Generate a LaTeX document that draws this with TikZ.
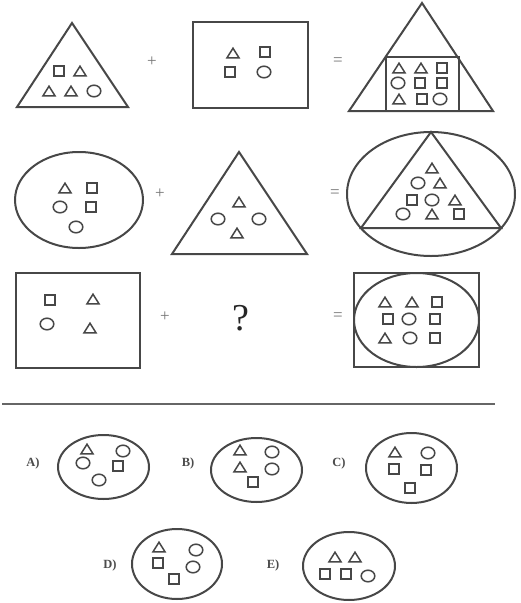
\documentclass[tikz,border=0pt]{standalone}
\usepackage{fontspec}
\setmainfont{Liberation Serif}
\begin{document}
\begin{tikzpicture}[x=1pt,y=-1pt,
  big/.style={draw=black!72,line width=2pt},
  small/.style={draw=black!72,line width=1.5pt},
  sign/.style={text=black!55,font=\fontsize{17}{17}\selectfont},
  lab/.style={text=black!70,font=\bfseries\fontsize{12.5}{12.5}\selectfont},
  pics/tri/.style={code={\draw[small] (-6,4.8) -- (0,-4.8) -- (6,4.8) -- cycle;}},
  pics/sq/.style={code={\draw[small] (-4.8,-4.8) rectangle (4.8,4.8);}},
  pics/cir/.style={code={\draw[small] (0,0) ellipse [x radius=6.8, y radius=5.8];}}]
\useasboundingbox (0,0) rectangle (520,603);
% ---- Row 1
\draw[big] (72,23) -- (17,107) -- (128,107) -- cycle;
\pic at (59,71) {sq}; \pic at (80,71) {tri};
\pic at (49,91) {tri}; \pic at (71,91) {tri}; \pic at (94,91) {cir};
\node[sign] (p1) at (152,62) {+};
\draw[big] (193,22) rectangle (308,108);
\pic at (233,53) {tri}; \pic at (265,52) {sq};
\pic at (230,72) {sq}; \pic at (264,72) {cir};
\node[sign] (e1) at (338,62) {=};
\draw[big] (422,3) -- (349,111) -- (493,111) -- cycle;
\draw[big] (385.5,57) rectangle (458.5,111);
\pic at (399,68) {tri}; \pic at (421,68) {tri}; \pic at (442,68) {sq};
\pic at (398,83) {cir}; \pic at (420,83) {sq}; \pic at (442,83) {sq};
\pic at (399,99) {tri}; \pic at (422,99) {sq}; \pic at (440,99) {cir};
% ---- Row 2
\draw[big] (79,200) ellipse [x radius=64, y radius=48];
\pic at (65,188) {tri}; \pic at (92,188) {sq};
\pic at (60,207) {cir}; \pic at (91,207) {sq};
\pic at (76,227) {cir};
\node[sign] (p2) at (160,194) {+};
\draw[big] (239,152) -- (172,254) -- (307,254) -- cycle;
\pic at (239,202) {tri};
\pic at (218,219) {cir}; \pic at (259,219) {cir};
\pic at (237,233) {tri};
\node[sign] (e2) at (335,194) {=};
\draw[big] (431,194) ellipse [x radius=84, y radius=62];
\draw[big] (431,132) -- (361,228) -- (501,228) -- cycle;
\pic at (432,168) {tri};
\pic at (418,183) {cir}; \pic at (440,183) {tri};
\pic at (412,200) {sq}; \pic at (432,200) {cir}; \pic at (455,200) {tri};
\pic at (403,214) {cir}; \pic at (432,214) {tri}; \pic at (459,214) {sq};
% ---- Row 3
\draw[big] (16,273) rectangle (140,368);
\pic at (50,300) {sq}; \pic at (93,299) {tri};
\pic at (47,324) {cir}; \pic at (90,328) {tri};
\node[sign] (p3) at (165,317) {+};
\node[text=black!85,font=\fontsize{38}{38}\selectfont] (q) at (241,318) {?};
\node[sign] (e3) at (338,317) {=};
\draw[big] (354,273) rectangle (479,367);
\draw[big] (416.5,320) ellipse [x radius=62.5, y radius=47];
\pic at (385,302) {tri}; \pic at (412,302) {tri}; \pic at (437,302) {sq};
\pic at (388,319) {sq}; \pic at (409,319) {cir}; \pic at (435,319) {sq};
\pic at (385,338) {tri}; \pic at (410,338) {cir}; \pic at (435,338) {sq};
% ---- separator
\draw[draw=black!60,line width=1.6pt] (2,404) -- (495,404);
% ---- Options
\node[lab] (la) at (33,463) {A)};
\draw[big] (103.5,467) ellipse [x radius=45.5, y radius=32];
\pic at (87,449) {tri}; \pic at (123,451) {cir};
\pic at (83,463) {cir}; \pic at (118,466) {sq};
\pic at (99,480) {cir};
\node[lab] (lb) at (188,463) {B)};
\draw[big] (256.5,470) ellipse [x radius=45.5, y radius=32];
\pic at (240,450) {tri}; \pic at (272,452) {cir};
\pic at (240,467) {tri}; \pic at (272,469) {cir};
\pic at (253,482) {sq};
\node[lab] (lc) at (339,463) {C)};
\draw[big] (411.5,468) ellipse [x radius=45.5, y radius=35];
\pic at (395,452) {tri}; \pic at (428,453) {cir};
\pic at (394,469) {sq}; \pic at (426,470) {sq};
\pic at (410,488) {sq};
\node[lab] (ld) at (110,565) {D)};
\draw[big] (177,564) ellipse [x radius=45, y radius=35];
\pic at (159,547) {tri}; \pic at (196,550) {cir};
\pic at (158,563) {sq}; \pic at (193,567) {cir};
\pic at (174,579) {sq};
\node[lab] (le) at (273,565) {E)};
\draw[big] (349,566) ellipse [x radius=46, y radius=34];
\pic at (335,557) {tri}; \pic at (355,557) {tri};
\pic at (325,574) {sq}; \pic at (346,574) {sq}; \pic at (368,576) {cir};
\end{tikzpicture}
\end{document}
